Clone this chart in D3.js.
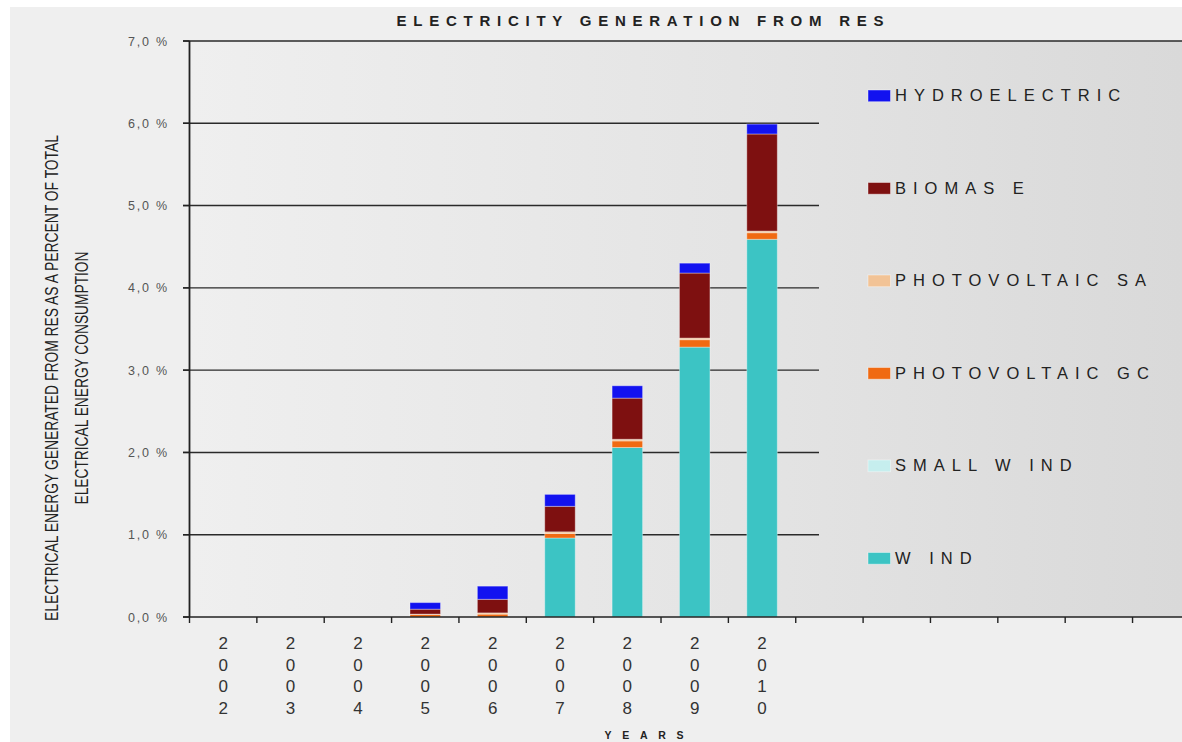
<!DOCTYPE html>
<html><head><meta charset="utf-8">
<script src="https://cdn.jsdelivr.net/npm/d3@7"></script>
<style>html,body{margin:0;padding:0;background:#fff;}svg{display:block;}</style>
</head><body>
<script>
// ---- data ----
const years = ["2002","2003","2004","2005","2006","2007","2008","2009","2010"];
const emptySlots = ["_a","_b","_c","_d","_e","_f"];
const wind      = [0,0,0,0,0,0.96,2.06,3.28,4.59];
const smallWind = [0,0,0,0,0,0,0,0,0];
const pvGC      = [0,0,0,0.03,0.035,0.055,0.08,0.09,0.08];
const pvSA      = [0,0,0,0.005,0.015,0.02,0.02,0.02,0.02];
const biomass   = [0,0,0,0.06,0.165,0.31,0.50,0.79,1.18];
const hydro     = [0,0,0,0.08,0.16,0.145,0.15,0.12,0.12];
const seriesKeys   = ["wind","smallWind","pvGC","pvSA","biomass","hydro"];
const seriesLabels = ["W IND","SMALL W IND","PHOTOVOLTAIC GC","PHOTOVOLTAIC SA","BIOMAS E","HYDROELECTRIC"];
const seriesColors = ["#3cc4c4","#c6eeee","#f06a12","#f2c396","#7e1010","#1212f0"];
const yTicks = [0,1,2,3,4,5,6,7];
const titleText = "ELECTRICITY GENERATION FROM RES";
const xTitle = "YEARS";
const yTitle1 = "ELECTRICAL ENERGY GENERATED FROM RES AS A PERCENT OF  TOTAL";
const yTitle2 = "ELECTRICAL  ENERGY CONSUMPTION";

(function(){
const W = 1182, H = 742;
const pLeft = 189.5, pTop = 41, pBottom = 617, pRight = 1182;
const step = 67.36;

const table = years.map((yr,i)=>({year:yr, wind:wind[i], smallWind:smallWind[i], pvGC:pvGC[i], pvSA:pvSA[i], biomass:biomass[i], hydro:hydro[i]}));
const cats = years.concat(emptySlots);

const svg = d3.select("body").append("svg").attr("width",W).attr("height",H);
svg.append("rect").attr("width",W).attr("height",H).attr("fill","#ffffff");
svg.append("rect").attr("x",10).attr("y",7).attr("width",W-10).attr("height",H-7).attr("fill","#efefef");

const defs = svg.append("defs");
const grad = defs.append("linearGradient").attr("id","pbg").attr("x1","0").attr("x2","1").attr("y1","0").attr("y2","0");
grad.append("stop").attr("offset","0").attr("stop-color","#efefef");
grad.append("stop").attr("offset","0.6").attr("stop-color","#e3e3e3");
grad.append("stop").attr("offset","1").attr("stop-color","#d9d9d9");

const x = d3.scaleBand().domain(cats).range([pLeft, pLeft + step*cats.length]).padding(0);
const y = d3.scaleLinear().domain([0,7]).range([pBottom, pTop]);

svg.append("rect").attr("x",pLeft).attr("y",pTop).attr("width",pRight-pLeft).attr("height",pBottom-pTop).attr("fill","url(#pbg)");

// gridlines
svg.append("g").selectAll("line").data(yTicks.filter(t=>t>0 && t<7)).join("line")
  .attr("x1",183).attr("x2",819).attr("y1",d=>y(d)).attr("y2",d=>y(d))
  .attr("stroke","#2a2a2a").attr("stroke-width",1.4);
svg.append("line").attr("x1",183).attr("x2",pRight).attr("y1",y(7)).attr("y2",y(7)).attr("stroke","#2a2a2a").attr("stroke-width",1.4);

// bars
const stack = d3.stack().keys(seriesKeys)(table);
const barW = 30.5;
svg.append("g").selectAll("g").data(stack).join("g")
  .attr("fill",(d,i)=>seriesColors[i])
  .selectAll("rect").data(d=>d.filter(p=>p[1]-p[0]>0)).join("rect")
  .attr("x",d=>x(d.data.year)+x.bandwidth()/2-barW/2)
  .attr("width",barW)
  .attr("y",d=>y(d[1]))
  .attr("height",d=>y(d[0])-y(d[1]))
  .attr("stroke","rgba(255,255,255,0.35)").attr("stroke-width",1);

// y axis
svg.append("line").attr("x1",pLeft).attr("x2",pLeft).attr("y1",pTop).attr("y2",pBottom).attr("stroke","#222").attr("stroke-width",1.8);
svg.append("g").selectAll("line").data(yTicks).join("line")
  .attr("x1",183).attr("x2",pLeft).attr("y1",d=>y(d)).attr("y2",d=>y(d)).attr("stroke","#222").attr("stroke-width",1.4);
svg.append("g").selectAll("text").data(yTicks).join("text")
  .attr("x",169).attr("y",d=>y(d)+4.5).attr("text-anchor","end")
  .attr("font-family","Liberation Sans, Arial, sans-serif").attr("font-size",12.5)
  .attr("letter-spacing",1.8).attr("fill","#555")
  .text(d=>d.toFixed(1).replace(".",",")+" %");

// x axis
svg.append("line").attr("x1",183).attr("x2",pRight).attr("y1",pBottom).attr("y2",pBottom).attr("stroke","#222").attr("stroke-width",1.6);
svg.append("g").selectAll("line").data(cats).join("line")
  .attr("x1",d=>x(d)).attr("x2",d=>x(d)).attr("y1",pBottom).attr("y2",pBottom+6).attr("stroke","#222").attr("stroke-width",1.4);
const xl = svg.append("g").selectAll("text").data(years).join("text")
  .attr("font-family","Liberation Sans, Arial, sans-serif").attr("font-size",17).attr("fill","#333").attr("text-anchor","middle");
xl.each(function(d){
  const t = d3.select(this);
  d.split("").forEach((ch,i)=>{
    t.append("tspan").attr("x",x(d)+x.bandwidth()/2).attr("y",649+i*21.7).text(ch);
  });
});

// titles
svg.append("text").attr("x",640).attr("y",26).attr("text-anchor","middle")
  .attr("font-family","Liberation Sans, Arial, sans-serif").attr("font-weight","bold").attr("font-size",15)
  .attr("fill","#222").attr("textLength",487).attr("lengthAdjust","spacing").text(titleText);
svg.append("text").attr("x",644).attr("y",739).attr("text-anchor","middle")
  .attr("font-family","Liberation Sans, Arial, sans-serif").attr("font-weight","bold").attr("font-size",10.5)
  .attr("fill","#222").attr("textLength",79).attr("lengthAdjust","spacing").text(xTitle);
svg.append("text").attr("transform","translate(57.5,378) rotate(-90)").attr("text-anchor","middle")
  .attr("font-family","Liberation Sans Narrow, Arial Narrow, sans-serif").attr("font-size",17.5)
  .attr("fill","#222").attr("textLength",486).attr("lengthAdjust","spacingAndGlyphs").text(yTitle1);
svg.append("text").attr("transform","translate(88,378) rotate(-90)").attr("text-anchor","middle")
  .attr("font-family","Liberation Sans Narrow, Arial Narrow, sans-serif").attr("font-size",17.5)
  .attr("fill","#222").attr("textLength",253).attr("lengthAdjust","spacingAndGlyphs").text(yTitle2);

// legend
const legOrder = d3.range(seriesKeys.length).reverse();
const leg = svg.append("g").selectAll("g").data(legOrder).join("g")
  .attr("transform",(d,i)=>`translate(868,${90+i*92.5})`);
leg.append("rect").attr("width",22.5).attr("height",11.7).attr("fill",d=>seriesColors[d])
  .attr("stroke","rgba(255,255,255,0.4)").attr("stroke-width",1);
leg.append("text").attr("x",27).attr("y",11.2)
  .attr("font-family","Liberation Sans, Arial, sans-serif").attr("font-size",16.5)
  .attr("letter-spacing",7).attr("fill","#222").text(d=>seriesLabels[d]);
})();
</script>
</body></html>
